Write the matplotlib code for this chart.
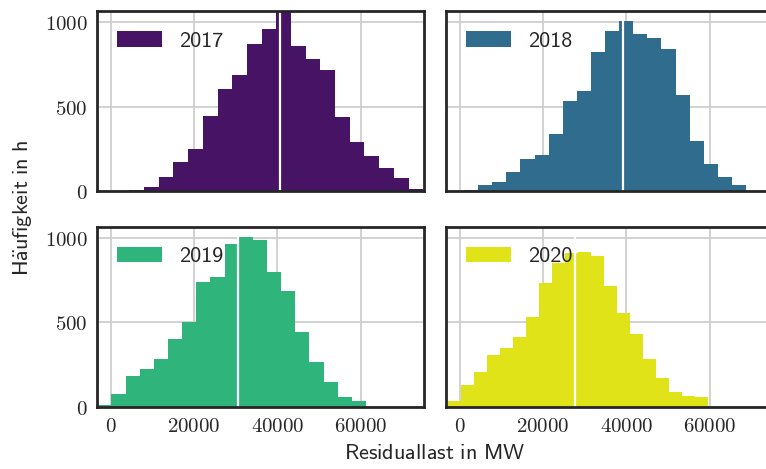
import numpy as np
import matplotlib
matplotlib.use("Agg")
import matplotlib.pyplot as plt
from matplotlib.ticker import FuncFormatter, FixedLocator

plt.rcParams["mathtext.fontset"] = "cm"
plt.rcParams["axes.unicode_minus"] = False

# Hourly residual load histograms (counts per bin), one per year
years = ["2017", "2018", "2019", "2020"]

bin_start = [4470, 1030, -3220, -2850]      # MW, left edge of first bin
bin_width = [3529, 3386, 3396, 3120]        # MW

counts_2017 = [6, 22, 83, 172, 250, 446, 606, 689, 873, 962,
               1100, 861, 784, 719, 440, 291, 210, 137, 77, 12]
counts_2018 = [6, 36, 53, 113, 190, 214, 339, 535, 594, 826,
               950, 1006, 933, 909, 844, 570, 297, 160, 83, 36]
counts_2019 = [12, 75, 182, 224, 283, 402, 503, 741, 770, 966,
               1008, 990, 800, 687, 444, 265, 147, 57, 34]
counts_2020 = [34, 131, 206, 307, 348, 414, 533, 735, 853, 913,
               919, 895, 717, 556, 432, 283, 170, 87, 63, 57]
counts = [counts_2017, counts_2018, counts_2019, counts_2020]

# mean residual load per year (MW)
mean_load = [40530, 39140, 30520, 27760]

x_ticks = [0, 20000, 40000, 60000]
y_ticks = [0, 500, 1000]
x_limits = (-3220, 75150)
y_limits = (0, 1068)

colors = plt.cm.viridis(np.linspace(0.05, 0.95, 4))

W, H = 766, 469
fig = plt.figure(figsize=(W / 100, H / 100), dpi=100)

col_left = [97.3, 446.3]
row_top = [11.0, 226.7]
ax_w, ax_h = 326.4, 180.0

spine_color = "#262626"
grid_color = "#cfcfcf"

tick_fmt = FuncFormatter(lambda v, pos: r"$\mathrm{%d}$" % int(round(v)))

for i, year in enumerate(years):
    r, c = divmod(i, 2)
    left = col_left[c] / W
    bottom = 1 - (row_top[r] + ax_h) / H
    ax = fig.add_axes([left, bottom, ax_w / W, ax_h / H])

    edges = bin_start[i] + bin_width[i] * np.arange(len(counts[i]) + 1)
    ax.bar(edges[:-1], counts[i], width=np.diff(edges), align="edge",
           color=colors[i], linewidth=0, zorder=2, label=year)
    ax.axvline(mean_load[i], color="white", lw=1.6, zorder=3)

    ax.set_xlim(*x_limits)
    ax.set_ylim(*y_limits)
    ax.xaxis.set_major_locator(FixedLocator(x_ticks))
    ax.yaxis.set_major_locator(FixedLocator(y_ticks))
    ax.xaxis.set_major_formatter(tick_fmt)
    ax.yaxis.set_major_formatter(tick_fmt)
    ax.grid(True, color=grid_color, lw=1.3, zorder=0)
    ax.set_axisbelow(True)
    ax.tick_params(length=0, labelsize=15, pad=7, colors="#262626")
    if r == 0:
        ax.tick_params(labelbottom=False)
    if c == 1:
        ax.tick_params(labelleft=False)
    for s in ax.spines.values():
        s.set_color(spine_color)
        s.set_linewidth(2.0)
        s.set_zorder(5)

    ax.legend(loc="upper left", frameon=False,
              prop={"family": "cmss10", "size": 16},
              labelcolor="#262626")

fig.text(435 / W, 1 - 453 / H, r"$\mathsf{Residuallast\ in\ MW}$",
         ha="center", va="center", fontsize=16, color="#262626")
fig.text(23 / W, 1 - 208 / H, r"$\mathsf{H\ddot{a}ufigkeit\ in\ h}$",
         ha="center", va="center", rotation=90, fontsize=16,
         color="#262626")

fig.savefig("out.png", dpi=100)
